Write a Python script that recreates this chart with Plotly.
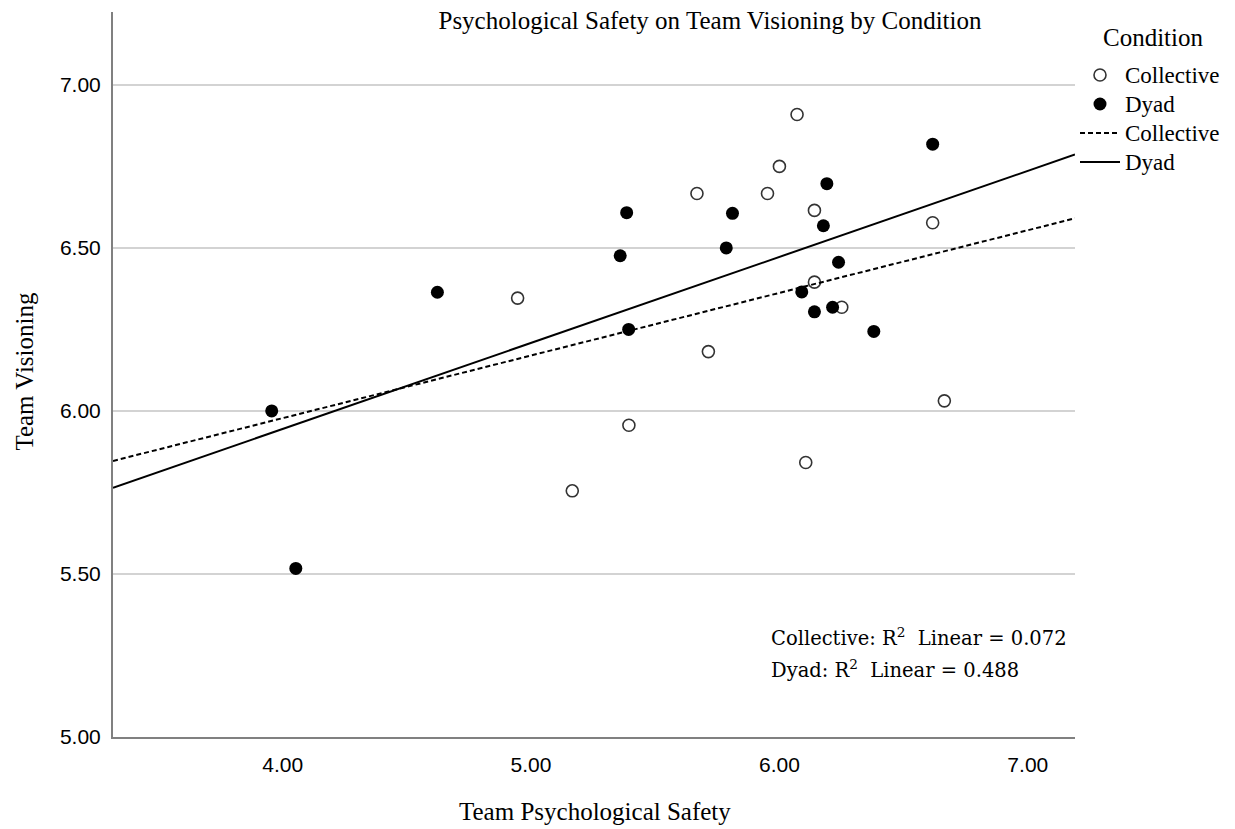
import plotly.graph_objects as go

# Data
collective_x = [4.946, 5.394, 5.166, 6.071, 6.000, 5.668, 5.952, 6.141, 6.617, 6.141, 6.251, 5.714, 6.664, 6.106]
collective_y = [6.346, 5.956, 5.755, 6.909, 6.750, 6.667, 6.667, 6.615, 6.577, 6.395, 6.318, 6.182, 6.031, 5.842]

dyad_x = [5.359, 5.385, 4.623, 5.393, 3.956, 4.053, 6.617, 6.191, 5.811, 6.177, 5.786, 6.238, 6.090, 6.141, 6.214, 6.380]
dyad_y = [6.476, 6.608, 6.364, 6.250, 6.000, 5.517, 6.818, 6.697, 6.606, 6.568, 6.500, 6.456, 6.365, 6.304, 6.318, 6.244]

# Fit lines (intercept, slope)
collective_fit = (5.2095, 0.1921)
dyad_fit = (4.889, 0.2639)

x_range = [3.317, 7.19]
y_range = [5.0, 7.2235]

x_ticks = [4.0, 5.0, 6.0, 7.0]
x_ticklabels = ["4.00", "5.00", "6.00", "7.00"]
y_ticks = [5.0, 5.5, 6.0, 6.5, 7.0]
y_ticklabels = ["5.00", "5.50", "6.00", "6.50", "7.00"]

r2_labels = ["Collective: R<sup>2</sup>  Linear = 0.072", "Dyad: R<sup>2</sup>  Linear = 0.488"]

SERIF = "Liberation Serif, Times New Roman, serif"
WIDE_SERIF = "DejaVu Serif, Liberation Serif, serif"
SANS = "Liberation Sans, Arial, sans-serif"

def legend_name(s):
    return "<span style='font-size:23px'>" + s + "</span>"

# page body has an 8px default margin; size the figure to fit the window
W, H = 1227, 821
ML, MR, MT, MB = 105, 160, 4, 92
PW, PH = W - ML - MR, H - MT - MB

fig = go.Figure()

fig.add_trace(go.Scatter(
    x=collective_x, y=collective_y, mode="markers", name=legend_name("Collective"),
    marker=dict(symbol="circle", size=12, color="white", line=dict(color="#333333", width=1.6)),
))
fig.add_trace(go.Scatter(
    x=dyad_x, y=dyad_y, mode="markers", name=legend_name("Dyad"),
    marker=dict(symbol="circle", size=13, color="black", line=dict(color="black", width=0)),
))

def fit_line(fit):
    a, b = fit
    return [a + b * x for x in x_range]

fig.add_trace(go.Scatter(
    x=x_range, y=fit_line(collective_fit), mode="lines", name=legend_name("Collective"),
    line=dict(color="black", width=2, dash="5px,3px"),
))
fig.add_trace(go.Scatter(
    x=x_range, y=fit_line(dyad_fit), mode="lines", name=legend_name("Dyad"),
    line=dict(color="black", width=2),
))

for i, txt in enumerate(r2_labels):
    fig.add_annotation(
        x=0.682, y=0.138 - i * 0.044, xref="paper", yref="paper",
        text=txt, showarrow=False, xanchor="left", yanchor="middle",
        font=dict(family=WIDE_SERIF, size=19.5, color="black"),
    )

# legend heading
fig.add_annotation(
    x=(1145 - ML) / PW, y=(MT + PH - 29.5) / PH, xref="paper", yref="paper",
    text="Condition", showarrow=False, xanchor="center", yanchor="middle",
    font=dict(family=SERIF, size=25, color="black"),
)
# axis titles
fig.add_annotation(
    x=0.501, y=0, xref="paper", yref="paper", yshift=-74,
    text="Team Psychological Safety", showarrow=False, xanchor="center", yanchor="middle",
    font=dict(family=SERIF, size=25, color="black"),
)
fig.add_annotation(
    x=0, y=0.504, xref="paper", yref="paper", xshift=-88, textangle=-90,
    text="Team Visioning", showarrow=False, xanchor="center", yanchor="middle",
    font=dict(family=SERIF, size=25, color="black"),
)

fig.update_layout(
    width=W, height=H,
    paper_bgcolor="white", plot_bgcolor="white",
    margin=dict(l=ML, r=MR, t=MT, b=MB, autoexpand=False),
    title=dict(
        text="Psychological Safety on Team Visioning by Condition",
        xref="container", yref="container", x=702 / W, y=1 - 12 / H,
        xanchor="center", yanchor="middle",
        font=dict(family=SERIF, size=25, color="black"),
    ),
    showlegend=True,
    legend=dict(
        x=1.0, y=0.940, xanchor="left", yanchor="top",
        font=dict(family=SERIF, size=20, color="black"),
        bgcolor="rgba(0,0,0,0)", tracegroupgap=0, itemwidth=40,
    ),
    xaxis=dict(
        range=x_range, tickvals=x_ticks, ticktext=x_ticklabels,
        showgrid=False, zeroline=False, showline=True, linecolor="#808080", linewidth=2,
        ticks="", ticklabelstandoff=8, automargin=False,
        tickfont=dict(family=SANS, size=21, color="black"),
    ),
    yaxis=dict(
        range=y_range, tickvals=y_ticks, ticktext=y_ticklabels,
        showgrid=True, gridcolor="#d3d3d3", gridwidth=2,
        zeroline=False, showline=True, linecolor="#808080", linewidth=2,
        ticks="", ticklabelstandoff=6, automargin=False,
        tickfont=dict(family=SANS, size=21, color="black"),
    ),
)

fig.write_html("out.html")
